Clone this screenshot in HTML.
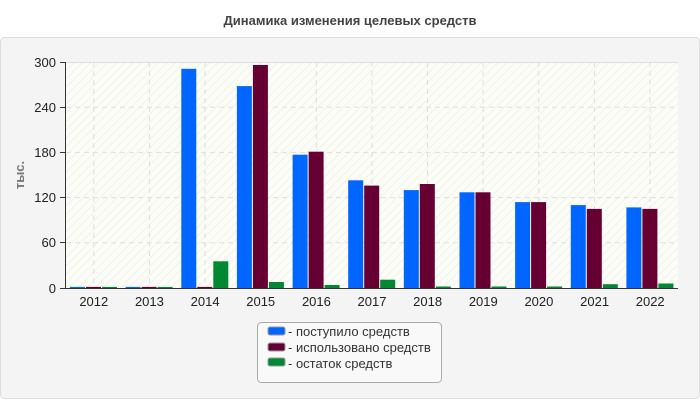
<!DOCTYPE html>
<html><head><meta charset="utf-8"><style>
body{margin:0;background:#fff;font-family:"Liberation Sans",sans-serif;}
</style></head><body>
<svg width="700" height="400" xmlns="http://www.w3.org/2000/svg" font-family="Liberation Sans, sans-serif">
<defs>
<pattern id="h" width="6" height="6" patternUnits="userSpaceOnUse" patternTransform="rotate(45)">
<rect width="6" height="6" fill="#fdfdf8"/><line x1="0" y1="0" x2="0" y2="6" stroke="#f0f0ec" stroke-width="2"/>
</pattern>
</defs>
<text x="350" y="25" text-anchor="middle" font-size="13" font-weight="bold" fill="#444">Динамика изменения целевых средств</text>
<rect x="0.5" y="37.5" width="699" height="361" rx="4" fill="#f4f4f4" stroke="#ddd"/>
<rect x="66" y="62" width="612" height="226" fill="url(#h)"/>
<g stroke="#ddd" stroke-dasharray="5,4">
<line x1="66" x2="678" y1="107.2" y2="107.2"/><line x1="66" x2="678" y1="152.4" y2="152.4"/>
<line x1="66" x2="678" y1="197.6" y2="197.6"/><line x1="66" x2="678" y1="242.8" y2="242.8"/>
<line x1="93.8" x2="93.8" y1="62" y2="288"/><line x1="149.4" x2="149.4" y1="62" y2="288"/>
<line x1="205" x2="205" y1="62" y2="288"/><line x1="260.7" x2="260.7" y1="62" y2="288"/>
<line x1="316.3" x2="316.3" y1="62" y2="288"/><line x1="371.9" x2="371.9" y1="62" y2="288"/>
<line x1="427.5" x2="427.5" y1="62" y2="288"/><line x1="483.1" x2="483.1" y1="62" y2="288"/>
<line x1="538.8" x2="538.8" y1="62" y2="288"/><line x1="594.4" x2="594.4" y1="62" y2="288"/>
<line x1="650" x2="650" y1="62" y2="288"/>
</g>
<line x1="66" x2="678" y1="62.5" y2="62.5" stroke="#ddd"/>
<g fill="#0066ff">
<rect x="70" y="286.9" width="15" height="1.1"/>
<rect x="125.6" y="286.9" width="15" height="1.1"/>
<rect x="181.3" y="68.8" width="15" height="219.2"/>
<rect x="236.9" y="86.1" width="15" height="201.9"/>
<rect x="292.6" y="154.7" width="15" height="133.3"/>
<rect x="348.2" y="180.3" width="15" height="107.7"/>
<rect x="403.8" y="190.1" width="15" height="97.9"/>
<rect x="459.5" y="192.3" width="15" height="95.7"/>
<rect x="515.1" y="202.1" width="15" height="85.9"/>
<rect x="570.8" y="205.1" width="15" height="82.9"/>
<rect x="626.4" y="207.4" width="15" height="80.6"/>
</g>
<g fill="#660033">
<rect x="86" y="286.9" width="15" height="1.1"/>
<rect x="141.6" y="286.9" width="15" height="1.1"/>
<rect x="197.3" y="286.9" width="15" height="1.1"/>
<rect x="252.9" y="65" width="15" height="223"/>
<rect x="308.6" y="151.7" width="15" height="136.3"/>
<rect x="364.2" y="185.6" width="15" height="102.4"/>
<rect x="419.8" y="184" width="15" height="104"/>
<rect x="475.5" y="192.3" width="15" height="95.7"/>
<rect x="531.1" y="202.1" width="15" height="85.9"/>
<rect x="586.8" y="208.9" width="15" height="79.1"/>
<rect x="642.4" y="208.9" width="15" height="79.1"/>
</g>
<g fill="#008833">
<rect x="102" y="286.9" width="15" height="1.1"/>
<rect x="157.6" y="286.9" width="15" height="1.1"/>
<rect x="213.3" y="261.3" width="15" height="26.7"/>
<rect x="268.9" y="282" width="15" height="6"/>
<rect x="324.6" y="285" width="15" height="3"/>
<rect x="380.2" y="279.7" width="15" height="8.3"/>
<rect x="435.8" y="286.5" width="15" height="1.5"/>
<rect x="491.5" y="286.5" width="15" height="1.5"/>
<rect x="547.1" y="286.5" width="15" height="1.5"/>
<rect x="602.8" y="284.2" width="15" height="3.8"/>
<rect x="658.4" y="283.5" width="15" height="4.5"/>
</g>
<line x1="66" x2="678" y1="288.5" y2="288.5" stroke="#333"/>
<line x1="65.5" x2="65.5" y1="62" y2="288" stroke="#333"/>
<g stroke="#333">
<line x1="60" x2="66" y1="62.5" y2="62.5"/><line x1="60" x2="66" y1="107.5" y2="107.5"/><line x1="60" x2="66" y1="152.5" y2="152.5"/>
<line x1="60" x2="66" y1="197.5" y2="197.5"/><line x1="60" x2="66" y1="242.5" y2="242.5"/><line x1="60" x2="66" y1="288.5" y2="288.5"/>
</g>
<g font-size="13" fill="#222" text-anchor="end">
<text x="56" y="67">300</text><text x="56" y="112">240</text><text x="56" y="157">180</text>
<text x="56" y="202">120</text><text x="56" y="247">60</text><text x="56" y="293">0</text>
</g>
<text transform="translate(24,175) rotate(-90)" text-anchor="middle" font-size="13" font-weight="bold" fill="#777">тыс.</text>
<g font-size="13" fill="#222" text-anchor="middle">
<text x="93.8" y="306">2012</text><text x="149.4" y="306">2013</text><text x="205.1" y="306">2014</text>
<text x="260.7" y="306">2015</text><text x="316.4" y="306">2016</text><text x="372" y="306">2017</text>
<text x="427.6" y="306">2018</text><text x="483.3" y="306">2019</text><text x="538.9" y="306">2020</text>
<text x="594.6" y="306">2021</text><text x="650.2" y="306">2022</text>
</g>
<rect x="257.5" y="322.5" width="184" height="60" rx="4" fill="#f9f9f9" stroke="#aaa"/>
<rect x="268" y="327" width="17" height="8" rx="2" fill="#0066ff" stroke="#999"/>
<rect x="268" y="343" width="17" height="8" rx="2" fill="#660033" stroke="#999"/>
<rect x="268" y="358" width="17" height="8" rx="2" fill="#008833" stroke="#999"/>
<g font-size="13" fill="#333">
<text x="288" y="336">- поступило средств</text>
<text x="288" y="352">- использовано средств</text>
<text x="288" y="368">- остаток средств</text>
</g>
</svg>
</body></html>
